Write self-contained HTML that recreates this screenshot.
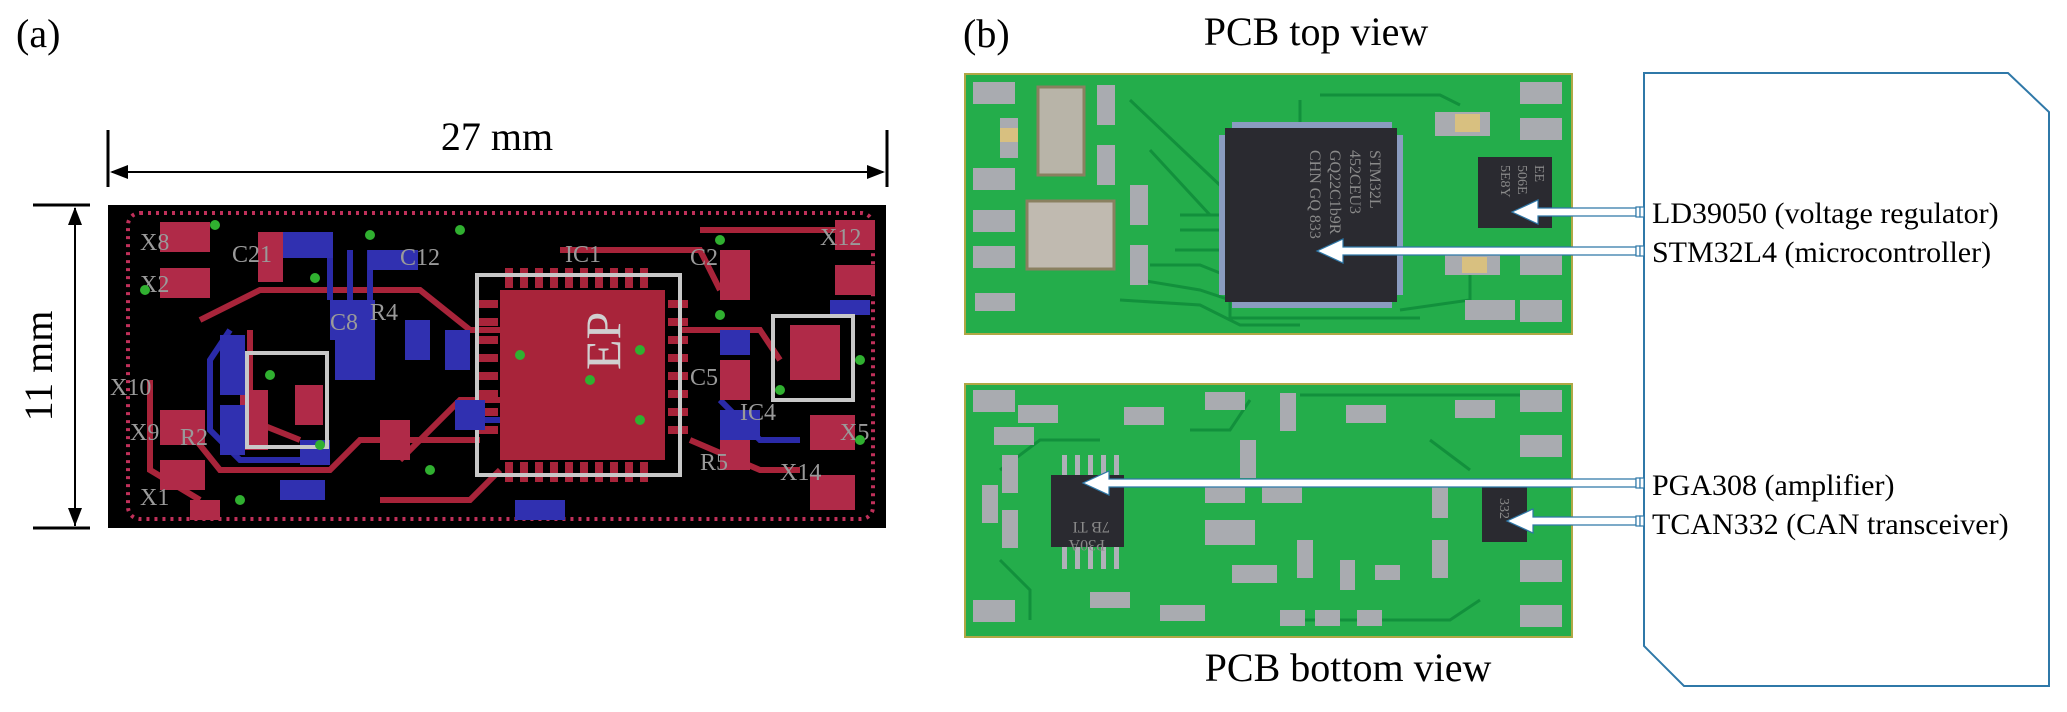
<!DOCTYPE html>
<html><head><meta charset="utf-8"><style>
html,body{margin:0;padding:0;background:#fff;}
svg{display:block;}
text{font-family:"Liberation Serif","DejaVu Serif",serif;}
</style></head><body>
<svg width="2067" height="712" viewBox="0 0 2067 712" xmlns="http://www.w3.org/2000/svg">
<rect width="2067" height="712" fill="#fff"/>

<!-- (a) -->
<text x="16" y="47" font-size="40">(a)</text>
<text x="497" y="150" font-size="40" text-anchor="middle">27 mm</text>
<line x1="108" y1="130" x2="108" y2="187" stroke="#000" stroke-width="3"/>
<line x1="887" y1="130" x2="887" y2="187" stroke="#000" stroke-width="3"/>
<line x1="112" y1="172" x2="883" y2="172" stroke="#000" stroke-width="2"/>
<polygon points="110,172 128,165 128,179" fill="#000"/>
<polygon points="885,172 867,165 867,179" fill="#000"/>
<line x1="33" y1="205" x2="90" y2="205" stroke="#000" stroke-width="3"/>
<line x1="33" y1="528" x2="90" y2="528" stroke="#000" stroke-width="3"/>
<line x1="75" y1="208" x2="75" y2="526" stroke="#000" stroke-width="2"/>
<polygon points="75,207 68,225 82,225" fill="#000"/>
<polygon points="75,526 68,508 82,508" fill="#000"/>
<text transform="translate(52,366) rotate(-90)" font-size="40" text-anchor="middle">11 mm</text>

<!-- left PCB layout -->
<rect x="108" y="205" width="778" height="323" fill="#000"/>
<rect x="128" y="213" width="745" height="306" rx="12" fill="none" stroke="#c0305a" stroke-width="4" stroke-dasharray="3 5"/>
<g stroke="#a8243a" stroke-width="6" fill="none">
<path d="M200 320 L260 290 L420 290 L470 330 L500 330"/>
<path d="M180 420 L220 470 L330 470 L360 440 L480 440"/>
<path d="M400 460 L460 400 L500 400"/>
<path d="M560 250 L700 250 L720 290"/>
<path d="M680 330 L760 330 L780 360"/>
<path d="M690 440 L760 470 L800 470"/>
<path d="M150 380 L150 470 L200 500"/>
<path d="M700 230 L840 230"/>
<path d="M380 500 L470 500 L500 470"/>
<path d="M250 330 L250 420 L300 440"/>
</g>
<g stroke="#2a2aa8" stroke-width="6" fill="none">
<path d="M230 330 L210 360 L210 430 L240 460 L300 460"/>
<path d="M330 300 L330 250"/><path d="M350 300 L350 250"/><path d="M370 300 L370 250"/>
<path d="M460 420 L500 420"/>
<path d="M720 400 L760 440 L800 440"/>
</g>
<rect x="500" y="290" width="165" height="170" fill="#a8243a"/>
<g fill="#a8243a">
<rect x="505" y="268" width="8" height="20"/><rect x="520" y="268" width="8" height="20"/><rect x="535" y="268" width="8" height="20"/><rect x="550" y="268" width="8" height="20"/><rect x="565" y="268" width="8" height="20"/><rect x="580" y="268" width="8" height="20"/><rect x="595" y="268" width="8" height="20"/><rect x="610" y="268" width="8" height="20"/><rect x="625" y="268" width="8" height="20"/><rect x="640" y="268" width="8" height="20"/>
<rect x="505" y="462" width="8" height="20"/><rect x="520" y="462" width="8" height="20"/><rect x="535" y="462" width="8" height="20"/><rect x="550" y="462" width="8" height="20"/><rect x="565" y="462" width="8" height="20"/><rect x="580" y="462" width="8" height="20"/><rect x="595" y="462" width="8" height="20"/><rect x="610" y="462" width="8" height="20"/><rect x="625" y="462" width="8" height="20"/><rect x="640" y="462" width="8" height="20"/>
<rect x="668" y="300" width="20" height="8"/><rect x="668" y="318" width="20" height="8"/><rect x="668" y="336" width="20" height="8"/><rect x="668" y="354" width="20" height="8"/><rect x="668" y="372" width="20" height="8"/><rect x="668" y="390" width="20" height="8"/><rect x="668" y="408" width="20" height="8"/><rect x="668" y="426" width="20" height="8"/>
<rect x="478" y="300" width="20" height="8"/><rect x="478" y="318" width="20" height="8"/><rect x="478" y="336" width="20" height="8"/><rect x="478" y="354" width="20" height="8"/><rect x="478" y="372" width="20" height="8"/><rect x="478" y="390" width="20" height="8"/><rect x="478" y="408" width="20" height="8"/><rect x="478" y="426" width="20" height="8"/>
</g>
<rect x="477" y="275" width="203" height="200" fill="none" stroke="#c8c8c8" stroke-width="4"/>
<text x="610" y="420" font-size="50" fill="#d0d0d0" font-family="Liberation Sans" transform="rotate(-90 590 390)">EP</text>
<g fill="#b02a48">
<rect x="160" y="222" width="50" height="30"/><rect x="160" y="268" width="50" height="30"/>
<rect x="258" y="232" width="25" height="50"/>
<rect x="160" y="410" width="45" height="35"/><rect x="160" y="460" width="45" height="30"/>
<rect x="240" y="390" width="28" height="60"/><rect x="295" y="385" width="28" height="40"/>
<rect x="340" y="340" width="20" height="40"/>
<rect x="835" y="220" width="40" height="30"/><rect x="835" y="265" width="40" height="30"/>
<rect x="790" y="325" width="50" height="55"/>
<rect x="810" y="415" width="45" height="35"/><rect x="810" y="475" width="45" height="35"/>
<rect x="720" y="250" width="30" height="50"/><rect x="720" y="360" width="30" height="40"/>
<rect x="190" y="500" width="30" height="20"/>
<rect x="720" y="440" width="30" height="30"/><rect x="380" y="420" width="30" height="40"/>
</g>
<g fill="#3030b0">
<rect x="283" y="232" width="50" height="26"/><rect x="368" y="250" width="50" height="20"/>
<rect x="220" y="335" width="25" height="60"/><rect x="220" y="405" width="25" height="50"/>
<rect x="280" y="480" width="45" height="20"/><rect x="335" y="340" width="40" height="40"/>
<rect x="405" y="320" width="25" height="40"/><rect x="445" y="330" width="25" height="40"/>
<rect x="455" y="400" width="30" height="30"/><rect x="720" y="330" width="30" height="25"/>
<rect x="830" y="300" width="40" height="15"/><rect x="720" y="410" width="40" height="30"/>
<rect x="300" y="440" width="30" height="25"/><rect x="515" y="500" width="50" height="20"/>
<rect x="330" y="300" width="45" height="40"/>
</g>
<rect x="247" y="353" width="80" height="94" fill="none" stroke="#c8c8c8" stroke-width="4"/>
<rect x="773" y="316" width="80" height="84" fill="none" stroke="#c8c8c8" stroke-width="4"/>
<g fill="#9a9a9a" font-family="Liberation Sans" font-size="24">
<text x="140" y="250">X8</text><text x="140" y="292">X2</text><text x="232" y="262">C21</text>
<text x="110" y="395">X10</text><text x="130" y="440">X9</text><text x="180" y="445">R2</text>
<text x="140" y="505">X1</text><text x="400" y="265">C12</text><text x="565" y="262">IC1</text>
<text x="690" y="385">C5</text><text x="780" y="480">X14</text><text x="840" y="440">X5</text>
<text x="740" y="420">IC4</text><text x="370" y="320">R4</text><text x="330" y="330">C8</text>
<text x="820" y="245">X12</text><text x="690" y="265">C2</text><text x="700" y="470">R5</text>
</g>
<g fill="#30b030">
<circle cx="145" cy="290" r="5"/><circle cx="215" cy="225" r="5"/><circle cx="315" cy="278" r="5"/><circle cx="370" cy="235" r="5"/><circle cx="460" cy="230" r="5"/><circle cx="520" cy="355" r="5"/><circle cx="590" cy="380" r="5"/><circle cx="640" cy="350" r="5"/><circle cx="640" cy="420" r="5"/><circle cx="270" cy="375" r="5"/><circle cx="320" cy="445" r="5"/><circle cx="860" cy="360" r="5"/><circle cx="860" cy="440" r="5"/><circle cx="720" cy="240" r="5"/><circle cx="720" cy="315" r="5"/><circle cx="240" cy="500" r="5"/><circle cx="430" cy="470" r="5"/><circle cx="780" cy="390" r="5"/>
</g>

<!-- (b) -->
<text x="963" y="47" font-size="40">(b)</text>
<text x="1316" y="45" font-size="40" text-anchor="middle">PCB top view</text>
<text x="1348" y="681" font-size="40" text-anchor="middle">PCB bottom view</text>

<!-- top PCB photo -->
<rect x="964" y="73" width="609" height="262" fill="#b0a845"/>
<rect x="966" y="75" width="605" height="258" fill="#24ad4b"/>
<g stroke="#12903c" stroke-width="3" fill="none">
<path d="M1130 100 L1225 190"/><path d="M1150 150 L1210 215"/>
<path d="M1180 215 L1225 215"/><path d="M1180 230 L1225 230"/><path d="M1175 250 L1225 250"/>
<path d="M1150 265 L1200 265 L1225 275"/><path d="M1140 280 L1200 290 L1230 300 L1230 318 L1420 318"/>
<path d="M1320 95 L1440 95 L1460 105"/><path d="M1300 100 L1300 130"/>
<path d="M1400 310 L1470 300 L1470 250"/>
<path d="M1120 300 L1200 305 L1240 325 L1300 325"/>
</g>
<rect x="1225" y="128" width="172" height="174" fill="#2a2a30"/>
<g fill="#8a9cc0"><rect x="1232" y="122" width="160" height="6"/><rect x="1232" y="302" width="160" height="6"/><rect x="1219" y="135" width="6" height="160"/><rect x="1397" y="135" width="6" height="160"/></g>
<g fill="#8a8a8a" font-family="Liberation Mono" font-size="16">
<text transform="translate(1370,150) rotate(90)">STM32L</text>
<text transform="translate(1350,150) rotate(90)">452CEU3</text>
<text transform="translate(1330,150) rotate(90)">GQ22C1b9R</text>
<text transform="translate(1310,150) rotate(90)">CHN GQ 833</text>
</g>
<rect x="1478" y="157" width="74" height="71" fill="#2a2a30"/>
<g fill="#8a8a8a" font-family="Liberation Mono" font-size="14">
<text transform="translate(1535,165) rotate(90)">EE</text><text transform="translate(1518,165) rotate(90)">506E</text><text transform="translate(1501,165) rotate(90)">5E8Y</text>
</g>
<rect x="1038" y="87" width="46" height="88" fill="#b8b4a8" stroke="#8a8060" stroke-width="3"/>
<rect x="1027" y="201" width="87" height="68" fill="#c0bab0" stroke="#8a8060" stroke-width="3"/>
<g fill="#a9abb0">
<rect x="973" y="82" width="42" height="22"/><rect x="973" y="168" width="42" height="22"/><rect x="973" y="210" width="42" height="22"/><rect x="973" y="246" width="42" height="22"/>
<rect x="1520" y="82" width="42" height="22"/><rect x="1520" y="118" width="42" height="22"/><rect x="1520" y="253" width="42" height="22"/><rect x="1520" y="300" width="42" height="22"/>
<rect x="1097" y="85" width="18" height="40"/><rect x="1097" y="145" width="18" height="40"/><rect x="1130" y="185" width="18" height="40"/><rect x="1130" y="245" width="18" height="40"/>
<rect x="1000" y="118" width="18" height="40"/><rect x="1435" y="112" width="55" height="24"/><rect x="1445" y="255" width="55" height="20"/><rect x="1465" y="300" width="50" height="20"/><rect x="975" y="293" width="40" height="18"/>
</g>
<g fill="#d8c080"><rect x="1455" y="114" width="25" height="18"/><rect x="1462" y="257" width="25" height="16"/><rect x="1000" y="128" width="18" height="14"/></g>

<!-- bottom PCB photo -->
<rect x="964" y="383" width="609" height="255" fill="#b0a845"/>
<rect x="966" y="385" width="605" height="251" fill="#24ad4b"/>
<g stroke="#12903c" stroke-width="3" fill="none">
<path d="M1300 395 L1520 395 L1540 410"/><path d="M1190 430 L1230 430 L1250 400"/>
<path d="M1000 470 L1040 440 L1100 440"/><path d="M1000 560 L1030 590 L1030 620"/>
<path d="M1300 620 L1450 620 L1480 600"/><path d="M1430 440 L1470 470"/>
</g>
<rect x="1051" y="475" width="73" height="72" fill="#2a2a30"/>
<g fill="#b0b0b8"><rect x="1062" y="455" width="5" height="20"/><rect x="1075" y="455" width="5" height="20"/><rect x="1088" y="455" width="5" height="20"/><rect x="1101" y="455" width="5" height="20"/><rect x="1114" y="455" width="5" height="20"/>
<rect x="1062" y="547" width="5" height="22"/><rect x="1075" y="547" width="5" height="22"/><rect x="1088" y="547" width="5" height="22"/><rect x="1101" y="547" width="5" height="22"/><rect x="1114" y="547" width="5" height="22"/></g>
<g fill="#8a8a8a" font-family="Liberation Mono" font-size="16">
<text transform="translate(1105,540) rotate(180)">P30A</text><text transform="translate(1110,522) rotate(180)">7B TI</text>
</g>
<rect x="1482" y="485" width="45" height="57" fill="#2a2a30"/>
<text transform="translate(1500,498) rotate(90)" fill="#8a8a8a" font-family="Liberation Mono" font-size="14">332</text>
<g fill="#a9abb0">
<rect x="973" y="390" width="42" height="22"/><rect x="973" y="600" width="42" height="22"/>
<rect x="1520" y="390" width="42" height="22"/><rect x="1520" y="435" width="42" height="22"/><rect x="1520" y="560" width="42" height="22"/><rect x="1520" y="605" width="42" height="22"/>
<rect x="1018" y="405" width="40" height="18"/><rect x="994" y="427" width="40" height="18"/><rect x="1124" y="407" width="40" height="18"/><rect x="1205" y="392" width="40" height="18"/><rect x="1346" y="405" width="40" height="18"/><rect x="1455" y="400" width="40" height="18"/>
<rect x="1002" y="455" width="16" height="38"/><rect x="1002" y="510" width="16" height="38"/><rect x="982" y="485" width="16" height="38"/>
<rect x="1205" y="485" width="40" height="18"/><rect x="1262" y="485" width="40" height="18"/><rect x="1205" y="520" width="50" height="25"/>
<rect x="1240" y="440" width="16" height="38"/><rect x="1280" y="393" width="16" height="38"/><rect x="1232" y="565" width="45" height="18"/>
<rect x="1297" y="540" width="16" height="38"/><rect x="1340" y="560" width="15" height="30"/><rect x="1375" y="565" width="25" height="15"/>
<rect x="1280" y="610" width="25" height="16"/><rect x="1315" y="610" width="25" height="16"/><rect x="1357" y="610" width="25" height="16"/>
<rect x="1090" y="592" width="40" height="16"/><rect x="1160" y="605" width="45" height="16"/><rect x="1432" y="540" width="16" height="38"/><rect x="1432" y="480" width="16" height="38"/>
</g>

<!-- callout box -->
<polygon points="1644,73 2008,73 2049,112 2049,686 1684,686 1644,646" fill="#fff" stroke="#2f78a8" stroke-width="2"/>
<g font-size="30">
<text x="1652" y="223">LD39050 (voltage regulator)</text>
<text x="1652" y="262">STM32L4 (microcontroller)</text>
<text x="1652" y="495">PGA308 (amplifier)</text>
<text x="1652" y="534">TCAN332 (CAN transceiver)</text>
</g>
<g fill="#fff" stroke="#2f78a8" stroke-width="1.2">
<path d="M1636 208 L1538 208 L1538 200 L1512 212 L1538 224 L1538 216 L1636 216 Z"/>
<path d="M1636 247 L1343 247 L1343 239 L1317 251 L1343 263 L1343 255 L1636 255 Z"/>
<path d="M1636 479 L1109 479 L1109 471 L1083 483 L1109 495 L1109 487 L1636 487 Z"/>
<path d="M1636 517 L1533 517 L1533 509 L1507 521 L1533 533 L1533 525 L1636 525 Z"/>
<rect x="1636" y="207" width="4" height="10"/><rect x="1640" y="207" width="4" height="10"/>
<rect x="1636" y="246" width="4" height="10"/><rect x="1640" y="246" width="4" height="10"/>
<rect x="1636" y="478" width="4" height="10"/><rect x="1640" y="478" width="4" height="10"/>
<rect x="1636" y="516" width="4" height="10"/><rect x="1640" y="516" width="4" height="10"/>
</g>
</svg>
</body></html>
